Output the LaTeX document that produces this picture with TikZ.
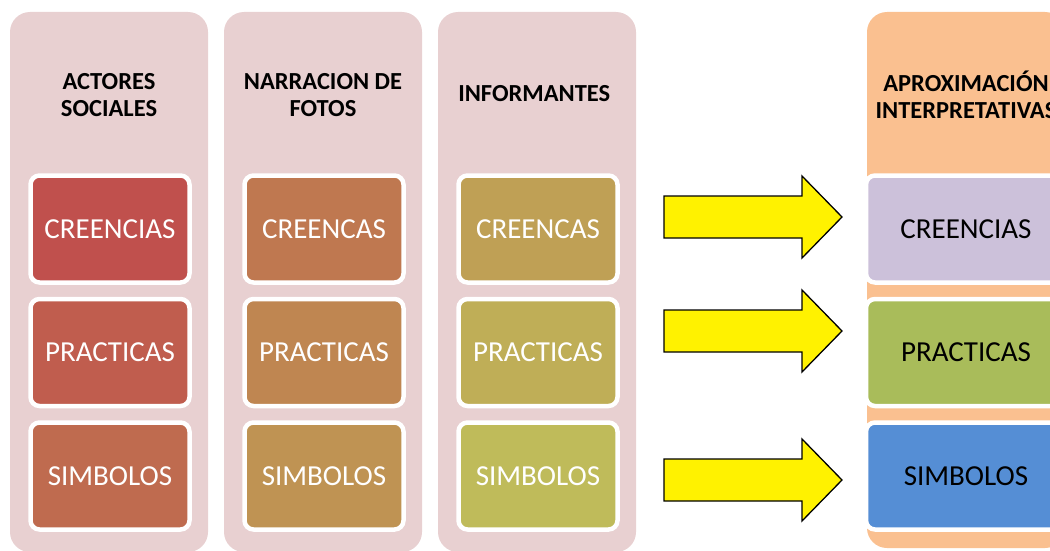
\documentclass[tikz,border=0pt]{standalone}
\usepackage{fontspec}
\setmainfont{Carlito}
\usepackage{tikz}
\usetikzlibrary{positioning}

\definecolor{colbg}{HTML}{E8D0D1}
\definecolor{aprbg}{HTML}{FAC090}
\definecolor{ca}{HTML}{C0504D}
\definecolor{cb}{HTML}{C05D4E}
\definecolor{cc}{HTML}{BF6B4F}
\definecolor{cd}{HTML}{BF7850}
\definecolor{ce}{HTML}{BF8651}
\definecolor{cf}{HTML}{BF9353}
\definecolor{cg}{HTML}{BFA055}
\definecolor{ch}{HTML}{BFAE57}
\definecolor{ci}{HTML}{BFBB5A}
\definecolor{lav}{HTML}{CCC1DA}
\definecolor{olive}{HTML}{A9BC5A}
\definecolor{sky}{HTML}{558ED5}

\begin{document}
\begin{tikzpicture}[x = 1pt, y = -1pt,
    column/.style = { fill = #1, rounded corners = 20pt, minimum width = 198pt, minimum height = 540pt },
    title/.style = { align = center, font = \fontsize{24.5}{27}\selectfont\bfseries },
    item/.style = { fill = #1, draw = white, line width = 4.5pt, rounded corners = 9pt,
      minimum width = 159pt, minimum height = 107pt, text = white, font = \fontsize{29}{34}\selectfont },
    result/.style = { item = #1, minimum width = 200pt, text = black },
    yarrow/.style = { fill = yellow, draw = black, line width = 1.3pt, line join = miter }]
  \useasboundingbox (0,0) rectangle (1050,551);
  \clip (0,0) rectangle (1050,551);

  % columns
  \node [column = colbg] (actores) at (109,282) {};
  \node [column = colbg] (narracion) at (323,282) {};
  \node [column = colbg] (informantes) at (537,282) {};
  \node [column = aprbg, minimum height = 536pt] (aprox) at (966,280) {};

  \node [title] (tactores) at (109,95) { ACTORES \\ SOCIALES };
  \node [title] (tnarracion) at (323,95) { NARRACION DE \\ FOTOS };
  \node [title] (tinformantes) at (537,94) { INFORMANTES };
  \node [title] (taprox) at (966,95) { APROXIMACIÓN \\ INTERPRETATIVAS };

  % boxes
  \node [item = ca] (a1) at (110,229) { CREENCIAS };
  \node [item = cb, below = 12pt of a1] (a2) { PRACTICAS };
  \node [item = cc, below = 12pt of a2] (a3) { SIMBOLOS };

  \node [item = cd] (n1) at (324,229) { CREENCAS };
  \node [item = ce, below = 12pt of n1] (n2) { PRACTICAS };
  \node [item = cf, below = 12pt of n2] (n3) { SIMBOLOS };

  \node [item = cg] (i1) at (538,229) { CREENCAS };
  \node [item = ch, below = 12pt of i1] (i2) { PRACTICAS };
  \node [item = ci, below = 12pt of i2] (i3) { SIMBOLOS };

  \node [result = lav] (r1) at (966,229) { CREENCIAS };
  \node [result = olive, below = 12pt of r1] (r2) { PRACTICAS };
  \node [result = sky, below = 12pt of r2] (r3) { SIMBOLOS };

  % arrows
  \foreach \y in {217,331,480}
    \draw [yarrow] (664,\y-21) -- (802,\y-21) -- (802,\y-41) -- (842,\y)
      -- (802,\y+41) -- (802,\y+21) -- (664,\y+21) -- cycle;
\end{tikzpicture}
\end{document}
